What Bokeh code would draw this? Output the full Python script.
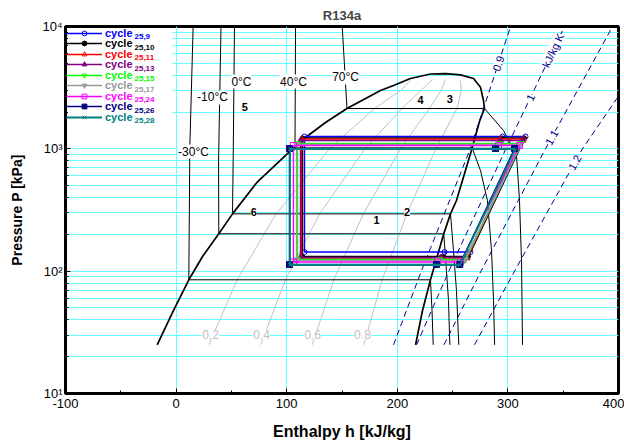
import math
from bokeh.plotting import figure
from bokeh.models import Label, Legend, LegendItem, FixedTicker, BoxAnnotation
from bokeh.core.properties import value
from bokeh.embed import file_html
from bokeh.resources import INLINE

FONT = "Liberation Sans"

# ---------------- data ----------------
x_ticks = [-100, 0, 100, 200, 300, 400]
x_tick_labels = ["-100", "0", "100", "200", "300", "400"]
x_minor = [-50, 50, 150, 250, 350]
y_ticks = [10, 100, 1000, 10000]
y_tick_labels = ["10\u00b9", "10\u00b2", "10\u00b3", "10\u2074"]

# saturation dome: liquid line -> critical point -> vapour line
dome_h = [-17.1, -3.3, 11.5, 23.9, 38.6, 51.0, 73.3, 100.5, 107.5, 115.5, 135.1, 154.5,
          184.8, 196.6, 211.9, 230.0, 243.6, 257.1, 268.9, 275.2, 277.9, 278.8, 274.3,
          267.7, 253.5, 248.1, 242.0, 230.0, 222.8, 216.5]
dome_P = [25, 45.9, 85.0, 131.8, 202, 294, 534, 911, 1017, 1208, 1641, 2137,
          2999, 3294, 3757, 4090, 4120, 4020, 3757, 3191, 2483, 2137, 1673,
          1017, 378, 294, 202, 85.0, 47.7, 25]

# isotherms
iso_names = ["-30\u00b0C", "-10\u00b0C", "0\u00b0C", "40\u00b0C", "70\u00b0C"]
t_m30_h = [15.4, 12.4, 11.5, 230.0, 231.4, 232.5]
t_m30_P = [10000, 1025, 85.0, 85.0, 47.7, 25]
t_m10_h = [40.6, 38.4, 38.6, 242.0, 244.5, 246.3, 247.5]
t_m10_P = [10000, 803, 202, 202, 98.8, 57.6, 25]
t_0_h = [52.8, 51.6, 51.0, 248.1, 250.8, 253.5, 255.6]
t_0_P = [10000, 803, 294, 294, 147.5, 69.5, 25]
t_40_h = [108.0, 107.5, 267.7, 275.2, 281.5, 285.2, 287.0, 288.0]
t_40_P = [10000, 1017, 1017, 665, 378, 147.5, 57.6, 25]
t_70_h = [150.2, 154.5, 278.8, 296.0, 307.8, 310.5, 312.3, 313.2]
t_70_P = [10000, 2137, 2137, 1411, 882, 378, 122.2, 25]
iso_label_h = [15.7, 32.9, 59.1, 106.1, 153.2]
iso_label_P = [951, 2628, 3551, 3551, 3830]

# vapour quality lines
q_names = ["0.2", "0.4", "0.6", "0.8"]
q02_h = [29.8, 55.2, 90.4, 139.4, 179.4, 203.1, 211.9]
q02_P = [25, 85, 294, 1017, 2137, 2999, 3620]
q04_h = [76.5, 98.9, 129.8, 171.3, 204.3, 221.3, 231.8]
q04_P = [25, 85, 294, 1017, 2137, 2999, 3689]
q06_h = [123.1, 142.6, 169.3, 203.3, 229.1, 239.6, 243.6]
q06_P = [25, 85, 294, 1017, 2137, 2999, 3689]
q08_h = [169.8, 186.3, 208.7, 235.2, 254.0, 257.9, 257.1]
q08_P = [25, 85, 294, 1017, 2137, 2999, 3620]
q_label_h = [31.1, 77.2, 123.3, 168.5]
q_label_P = [30.2, 30.2, 30.2, 30.2]

# isentropes (kJ/kg K)
s_P = [25, 100, 1000, 10000]
s09_h = [196.6, 221.7, 266.0, 302.4]
s10_h = [217.4, 246.6, 298.2, 351.2]
s11_h = [242.2, 275.7, 334.0, 394.6]
s12_h = [269.8, 306.0, 367.4, 443.0]
s_label_text = ["0.9", "1", "kJ/kg K", "1.1", "1.2"]
s_label_h = [291.4, 320.4, 340.8, 339.6, 360.5]
s_label_P = [4984, 2628, 6364, 1237, 773]
s_label_deg = [71.7, 64.4, 64.4, 61.3, 61.0]

# state numbers
st_text = ["1", "2", "3", "4", "5", "6"]
st_h = [181.2, 208.9, 247.5, 221.0, 62.1, 70.3]
st_P = [262.9, 303.4, 2564, 2484, 2218, 303.4]

# refrigeration cycles
cyc_sub = ["25,9", "25,10", "25,11", "25,13", "25,15", "25,17", "25,24", "25,26", "25,28"]
cyc_color = ["#0000ff", "#000000", "#ff0000", "#800080", "#00ff00", "#999999",
             "#ff00ff", "#000080", "#008080"]
cyc_marker = ["circle", "circle", "triangle", "triangle", "inverted_triangle",
              "inverted_triangle", "square", "square", "x"]
cyc_filled = [False, True, False, True, False, True, False, True, False]
cyc_h_evap = [242.7, 240.9, 240.0, 239.1, 238.2, 237.3, 236.3, 235.4, 235.4]
cyc_h_suct = [266.2, 264.4, 263.2, 262.6, 261.7, 260.8, 257.1, 256.5, 256.7]
cyc_h_disc = [315.9, 315.0, 314.1, 313.2, 312.3, 311.4, 310.5, 306.0, 306.9]
cyc_h_cond = [295.1, 294.2, 293.3, 293.3, 292.4, 291.5, 291.5, 288.8, 288.8]
cyc_h_liq = [116.1, 114.3, 113.4, 112.5, 109.8, 108.9, 106.1, 102.5, 103.0]
cyc_p_low = [143.4, 131.8, 128.1, 129.3, 124.5, 122.2, 118.8, 113.4, 112.3]
cyc_p_high = [1261, 1226, 1203, 1170, 1106, 1085, 1064, 1006, 997]

# ---------------- helpers for annotation placement (pixels -> data) ----------------
def h_at(px):
    return (px - 65) / 1.106 - 100

def p_at(py):
    return 10 ** (4 - (py - 26) / 122.33)

CYAN = "#66ffff"

p = figure(width=624, height=448, x_range=(-100, 400), y_range=(10, 10000),
           y_axis_type="log", output_backend="svg", toolbar_location=None,
           min_border_left=65, min_border_right=6, min_border_top=26,
           min_border_bottom=55, title="R134a")
p.background_fill_color = "white"
p.border_fill_color = "white"
p.outline_line_color = "black"
p.outline_line_width = 3
p.title.align = "center"
p.title.text_font = FONT
p.title.text_font_size = "13px"
p.title.text_font_style = "bold"
p.title.standoff = 8

y_minor = [m * d for d in (10, 100, 1000) for m in range(2, 10)]
xt = FixedTicker(ticks=x_ticks, minor_ticks=x_minor)
yt = FixedTicker(ticks=y_ticks, minor_ticks=y_minor)
p.xaxis.ticker = xt
p.yaxis.ticker = yt
p.xgrid.ticker = xt
p.ygrid.ticker = yt
p.xgrid.grid_line_color = CYAN
p.ygrid.grid_line_color = CYAN
p.ygrid.minor_grid_line_color = CYAN
p.xaxis.major_label_overrides = {t: l for t, l in zip(x_ticks, x_tick_labels)}
p.yaxis.major_label_overrides = {t: l for t, l in zip(y_ticks, y_tick_labels)}

for ax in (p.xaxis, p.yaxis):
    ax.axis_line_width = 3
    ax.axis_line_color = "black"
    ax.major_tick_in = 5
    ax.major_tick_out = 0
    ax.minor_tick_in = 3
    ax.minor_tick_out = 0
    ax.major_tick_line_color = "black"
    ax.minor_tick_line_color = "black"
    ax.major_label_text_font = FONT
    ax.major_label_text_font_size = "13px"
    ax.major_label_text_color = "black"
    ax.axis_label_text_font = FONT
    ax.axis_label_text_font_style = "bold"
    ax.axis_label_text_color = "black"
p.xaxis.major_label_standoff = 5
p.yaxis.major_label_standoff = 3
p.xaxis.axis_label = "Enthalpy h [kJ/kg]"
p.xaxis.axis_label_text_font_size = "16px"
p.xaxis.axis_label_standoff = 12
p.yaxis.axis_label = "Pressure P [kPa]"
p.yaxis.axis_label_text_font_size = "14px"
p.yaxis.axis_label_standoff = 14

# ---------------- background curves ----------------
for qh, qp in [(q02_h, q02_P), (q04_h, q04_P), (q06_h, q06_P), (q08_h, q08_P)]:
    p.line(qh, qp, line_color="#c0c0c0", line_width=1)

for th, tp in [(t_m30_h, t_m30_P), (t_m10_h, t_m10_P), (t_0_h, t_0_P),
               (t_40_h, t_40_P), (t_70_h, t_70_P)]:
    p.line(th, tp, line_color="black", line_width=1)

p.line(dome_h, dome_P, line_color="black", line_width=1.7)

for sh in (s09_h, s10_h, s11_h, s12_h):
    p.line(sh, s_P, line_color="#00008b", line_width=1, line_dash="6 4")

# ---------------- cycles ----------------
cyc_renderers = []
for i in range(len(cyc_sub)):
    hs = [cyc_h_evap[i], cyc_h_suct[i], cyc_h_disc[i], cyc_h_cond[i],
          cyc_h_liq[i], cyc_h_liq[i], cyc_h_evap[i]]
    ps = [cyc_p_low[i], cyc_p_low[i], cyc_p_high[i], cyc_p_high[i],
          cyc_p_high[i], cyc_p_low[i], cyc_p_low[i]]
    c = cyc_color[i]
    lr = p.line(hs, ps, line_color=c, line_width=1.4 if i < 8 else 1.8)
    size = 4 if cyc_marker[i] == "circle" else 6
    if cyc_marker[i] == "circle" and not cyc_filled[i]:
        size = 5
    sr = p.scatter(hs[:-1], ps[:-1], marker=cyc_marker[i], size=size,
                   line_color=c, line_width=1,
                   fill_color=c if cyc_filled[i] else None)
    cyc_renderers.append((lr, sr))

# ---------------- text labels ----------------
def add_label(x, y, text, size, color="black", bold=False, angle=0.0, bg=True):
    lab = Label(x=x, y=y, text=text, text_font=FONT, text_font_size=size,
                text_color=color, text_align="center", text_baseline="middle",
                text_font_style="bold" if bold else "normal",
                angle=math.radians(angle),
                background_fill_color="white" if bg else None)
    p.add_layout(lab)

for x, y, t in zip(iso_label_h, iso_label_P, iso_names):
    add_label(x, y, t, "12px")
for x, y, t in zip(q_label_h, q_label_P, q_names):
    add_label(x, y, t, "12px", color="#c0c0c0")
for x, y, t, a in zip(s_label_h, s_label_P, s_label_text, s_label_deg):
    add_label(x, y, t, "11px", color="#00008b", angle=a)
for x, y, t in zip(st_h, st_P, st_text):
    add_label(x, y, t, "11px", bold=True, bg=(t in ("2", "6")))

# ---------------- legend ----------------
p.add_layout(BoxAnnotation(left=h_at(67.5), right=h_at(172), top=p_at(27.6),
                           bottom=p_at(126), fill_color="white", fill_alpha=1,
                           line_color=None))
frame_h = 393 - 26
for i, (lr, sr) in enumerate(cyc_renderers):
    c = cyc_color[i]
    center = 6.7 + 10.5 * i          # row centre measured from frame top
    leg = Legend(items=[LegendItem(label=value("cycle"), renderers=[lr, sr])],
                 location=(1, frame_h - center - 6),
                 glyph_width=36, glyph_height=12, label_height=12, label_width=30,
                 label_standoff=3, padding=0, margin=0, spacing=0,
                 background_fill_alpha=0, border_line_color=None,
                 label_text_font=FONT, label_text_font_size="11px",
                 label_text_font_style="bold", label_text_color=c)
    p.add_layout(leg)
    p.add_layout(Label(x=h_at(134), y=p_at(26 + center + 3.5), text=cyc_sub[i],
                       text_font=FONT, text_font_size="8px", text_font_style="bold",
                       text_color=c, text_align="left", text_baseline="middle"))

open("out.html", "w").write(file_html(p, INLINE))
